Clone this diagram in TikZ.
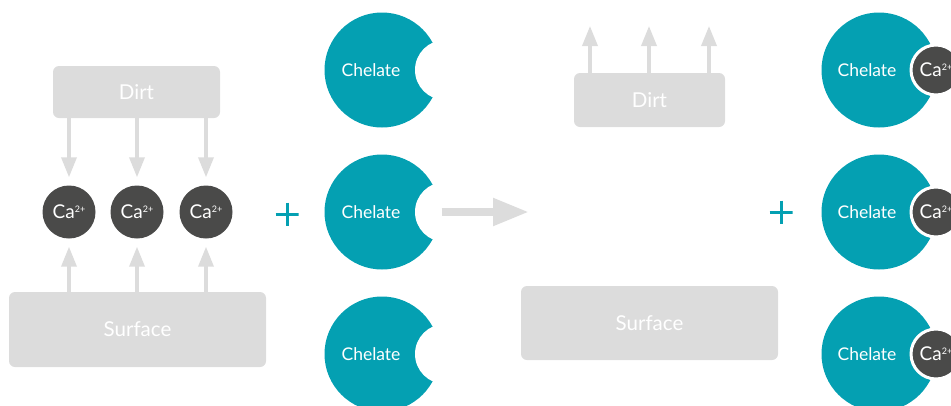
\documentclass[tikz,border=0pt]{standalone}
\usepackage{fontspec}
\setmainfont{Lato}
\usetikzlibrary{arrows.meta, positioning}

\definecolor{chelteal}{HTML}{04A0B2}
\definecolor{iongray}{HTML}{4A4A49}
\definecolor{boxgray}{HTML}{DCDCDC}

\newcommand{\caion}{Ca\raisebox{6pt}{\fontsize{9}{10}\selectfont 2+}}

\tikzset{
  graybox/.style={rectangle, rounded corners=6pt, fill=boxgray, text=white, inner sep=0pt, font=\fontsize{20.5}{24}\selectfont},
  ion/.style={circle, fill=iongray, text=white, minimum size=53pt, inner sep=0pt, font=\fontsize{19}{22}\selectfont},
  boundion/.style={ion, minimum size=50pt, draw=white, line width=3pt},
  chelate/.style={circle, fill=chelteal, minimum size=115pt, inner sep=0pt},
  cheltext/.style={text=white, inner sep=0pt, font=\fontsize{17.5}{20}\selectfont},
  notch/.style={circle, fill=white, minimum size=60pt, inner sep=0pt},
  thinarrow/.style={draw=boxgray, line width=3.5pt, -{Triangle[length=20pt, width=15pt]}},
  fatarrow/.style={draw=boxgray, line width=8pt, -{Triangle[length=36pt, width=26pt]}},
  plussign/.style={minimum size=23pt, inner sep=0pt, path picture={
    \draw[chelteal, line width=3pt] (path picture bounding box.north) -- (path picture bounding box.south)
      (path picture bounding box.west) -- (path picture bounding box.east);}}
}

\begin{document}
\begin{tikzpicture}[x=1pt, y=-1pt]
\clip (0,0) rectangle (951,405);

% before
\node[graybox, minimum width=167pt, minimum height=52pt] (dirtL) at (136.5,92) {Dirt};
\node[graybox, minimum width=257pt, minimum height=75pt] (surfL) at (137.5,329.5) {Surface};
\node[ion] (caL1) at (69,212) {\caion};
\node[ion] (caL2) at (137,212) {\caion};
\node[ion] (caL3) at (206,212) {\caion};
\foreach \i in {1,2,3} {
  \draw[thinarrow] (caL\i |- dirtL.south) -- ([yshift=8pt]caL\i.north);
  \draw[thinarrow] (caL\i |- surfL.north) -- ([yshift=-8pt]caL\i.south);
}
\node[plussign] (plusL) at (287,214) {};

\node[chelate] (ch1) at (382,70) {};
\node[chelate] (ch2) at (382,212) {};
\node[chelate] (ch3) at (382,354) {};
\foreach \i in {1,2,3} {
  \node[notch] (gap\i) at ([xshift=63pt]ch\i.center) {};
  \node[cheltext] (chtx\i) at ([xshift=-11pt]ch\i.center) {Chelate};
}

\coordinate (arrowEnd) at (529,212);
\draw[fatarrow] ([xshift=2pt]ch2.east) -- (arrowEnd);

% after
\node[graybox, minimum width=151pt, minimum height=54pt] (dirtR) at (649.5,100) {Dirt};
\node[graybox, minimum width=257pt, minimum height=74pt] (surfR) at (649.5,323) {Surface};
\coordinate (upR1) at (590,26);
\coordinate (upR2) at (649,26);
\coordinate (upR3) at (709,26);
\foreach \i in {1,2,3}
  \draw[thinarrow] (upR\i |- dirtR.north) -- (upR\i);
\node[plussign] (plusR) at (781,212) {};

\node[chelate] (cb1) at (879,70) {};
\node[chelate] (cb2) at (879,212) {};
\node[chelate] (cb3) at (879,354) {};
\foreach \i in {1,2,3} {
  \node[cheltext] (cbtx\i) at ([xshift=-12pt]cb\i.center) {Chelate};
  \node[boundion] (caR\i) at ([xshift=57pt]cb\i.center) {\caion};
}
\end{tikzpicture}
\end{document}
